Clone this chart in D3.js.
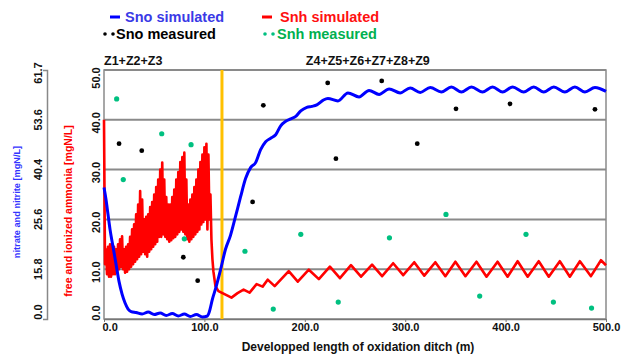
<!DOCTYPE html>
<html><head><meta charset="utf-8">
<script src="https://cdn.jsdelivr.net/npm/d3@7/dist/d3.min.js"></script>
<style>
body{margin:0;background:#fff}
svg{display:block}
text{font-family:"Liberation Sans",Arial,sans-serif;font-weight:bold}
</style>
</head><body>
<svg id="chart" width="635" height="358"></svg>
<script>
// ---------- data ----------
const xTicks = [0, 100, 200, 300, 400, 500];
const yTicks = [0, 10, 20, 30, 40, 50];
const yOuterLabels = ["0.0", "15.8", "25.6", "40.4", "53.6", "61.7"];
const zoneBoundary = 117.5;
const zoneLabels = ["Z1+Z2+Z3", "Z4+Z5+Z6+Z7+Z8+Z9"];
const zoneLabelStart = [0, 201];

const snoSimX = [0,2,4,6,9,12,15,18,21,24,27,32,38,44,50,56,62,68,74,80,86,92,98,103,105,108,111,116,121,126,131,136,141,146,151,156,161,166,171,176,181,186,191,196,202,207,212,218,223,233,243,254,264,274,284,295,305,315,325,336,346,356,366,377,387,397,407,418,428,438,448,459,469,479,489,500];
const snoSimV = [26.4,24,21,18,14.5,11,7.5,5,3.2,2,1.5,1.3,1.0,1.4,0.9,1.2,0.7,1.1,0.6,1.0,0.5,0.9,0.4,0.6,1.5,4,6,9.8,14,16.8,20.6,24.5,28.2,30.4,31.4,34,35.6,36.3,37,38.8,39.7,40.2,40.7,41.8,42.5,42.7,43.0,43.9,44.3,43.8,45.4,44.6,45.9,45.1,46.2,45.4,46.4,45.5,46.5,45.6,46.6,45.6,46.6,45.6,46.6,45.6,46.6,45.6,46.6,45.6,46.6,45.6,46.6,45.6,46.5,45.7];

const snhSimX = [0,1,2,3,4,5,6,7,8,9,10,11,12,13,14,15,16,17,18,19,20,21,22,23,24,25,26,27,28,29,30,31,32,33,34,35,36,37,38,39,40,41,42,43,44,45,46,47,48,49,50,51,52,53,54,55,56,57,58,59,60,61,62,63,64,65,66,67,68,69,70,71,72,73,74,75,76,77,78,79,80,81,82,83,84,85,86,87,88,89,90,91,92,93,94,95,96,97,98,99,100,101,102,103,104,105,106,107,108,109,111,114,118,122,127,133,139,145,152,158,163,170,184,193,204,214,225,235,246,256,267,277,288,298,309,319,330,340,350,360,371,381,392,402,412,422,433,443,454,464,474,485,495,500];
const snhSimV = [40,11,14,9,14.5,8.5,15,8.5,15,9,14.5,9,14,9.5,15,10,16,10.5,16.6,10,14,9.3,14.5,9.5,15,10,16.5,10.5,18,11,19,11.5,21,12,23,12.5,25.7,13,24,13.5,20,13,20.5,12.5,21,13.5,22.5,14,23.5,14.5,25,15,26.5,15.5,28,16.5,30,16.5,31.4,17,28,16.5,24.5,16,23,15.5,23,15.8,24.5,16.2,26,16.5,28,17,29.5,17.5,31.5,18,32.5,17.5,33.4,17,28,16,23,15.5,24,16,25,16.5,26.5,17,28,17.5,30,18,31.5,19,33,19.5,34.5,20,35.2,18,33,20,25,16,12,9.5,6.6,5.6,5.2,4.8,4.3,5.2,5.9,5.3,7.0,6.5,7.9,6.6,9.6,7.5,9.9,8.0,10.5,8.2,10.8,8.5,10.9,8.6,11.2,8.8,11.4,8.7,11.4,8.6,11.5,8.6,11.5,8.5,11.5,8.5,11.6,8.5,11.6,8.5,11.6,8.5,11.6,8.6,11.8,10.8];

const snoMeasX = [15,37.6,79,93.3,148,158.7,222.8,231,276.6,312,350.6,404.4,489];
const snoMeasV = [35.2,33.8,12.4,7.7,23.5,42.9,47.4,32.2,47.8,35.2,42.2,43.2,42.1];

const snhMeasX = [12.6,19.2,57.5,80,86.7,140.4,168.6,196,233.3,284.3,340.6,374.2,420.3,447.6,485.6];
const snhMeasV = [44.2,28,37.2,16.1,35,13.6,2.0,17,3.4,16.3,21,4.6,17,3.4,2.2];

const legendItems = [
  {label:"Sno simulated", kind:"line", color:"#0000ff", text:"#3a3ae6"},
  {label:"Sno measured",  kind:"dots", color:"#000000", text:"#000000"},
  {label:"Snh simulated", kind:"line", color:"#ff0000", text:"#ff1010"},
  {label:"Snh measured",  kind:"dots", color:"#00c080", text:"#00b050"}
];

// ---------- drawing ----------
const svg = d3.select("#chart");
svg.append("rect").attr("width",635).attr("height",358).attr("fill","#fff");

const x = d3.scaleLinear().domain([0,500]).range([104,606]);
const y = d3.scaleLinear().domain([0,50]).range([319,70]);

// gridlines
svg.append("g").selectAll("line").data(yTicks.filter(v=>v>0)).join("line")
  .attr("x1",x(0)).attr("x2",x(500)).attr("y1",d=>y(d)).attr("y2",d=>y(d))
  .attr("stroke","#8a8a8a").attr("stroke-width",2);

// plot border
svg.append("rect").attr("x",x(0)).attr("y",y(50)).attr("width",x(500)-x(0)).attr("height",y(0)-y(50))
  .attr("fill","none").attr("stroke","#8a8a8a").attr("stroke-width",1.5);

// bottom axis
const xAxis = d3.axisBottom(x).tickValues(xTicks).tickFormat(d=>d.toFixed(1)).tickSize(3).tickSizeOuter(0);
const gx = svg.append("g").attr("transform",`translate(0,${y(0)})`).call(xAxis);
gx.select(".domain").attr("stroke","#777").attr("stroke-width",1.5);
gx.selectAll(".tick line").attr("stroke","#777");
gx.selectAll(".tick text").attr("font-size",11).attr("font-weight","bold").attr("fill","#111")
  .attr("font-family","'Liberation Sans',Arial,sans-serif").attr("dy","0.55em")
  .attr("text-anchor",(d,i)=>i===0?"start":"middle").attr("dx",(d,i)=>i===0?-2:0);

// inner left labels (rotated)
svg.append("g").selectAll("text").data(yTicks).join("text")
  .attr("transform",(d,i)=>`translate(100,${y(d)+(i===0?-6:(i===yTicks.length-1?8:3))}) rotate(-90)`)
  .attr("text-anchor","middle").attr("font-size",11).attr("fill","#111")
  .text(d=>d.toFixed(1));

// outer left axis
const yOuter = d3.axisLeft(y).tickValues([]).tickSizeOuter(4);
const go = svg.append("g").attr("transform","translate(47,0)").call(yOuter);
go.select(".domain").attr("stroke","#888").attr("stroke-width",1.5);
svg.append("g").selectAll("text").data(yOuterLabels).join("text")
  .attr("transform",(d,i)=>`translate(42,${y(yTicks[i])+(i===0?-7:(i===yTicks.length-1?3:0))}) rotate(-90)`)
  .attr("text-anchor","middle").attr("font-size",11).attr("fill","#111")
  .text(d=>d);

// axis titles
svg.append("text").attr("transform","translate(20,202) rotate(-90)")
  .attr("text-anchor","middle").attr("font-size",9.2).attr("fill","#3333ff")
  .text("nitrate and nitrite [mgN/L]");
svg.append("text").attr("transform","translate(72,211) rotate(-90)")
  .attr("text-anchor","middle").attr("font-size",10.5).attr("fill","#ff0000")
  .text("free and ionized ammonia [mgN/L]");
svg.append("text").attr("x",358).attr("y",351).attr("text-anchor","middle")
  .attr("font-size",12).attr("fill","#111").text("Developped length of oxidation ditch (m)");

// zone labels
svg.append("g").selectAll("text").data(zoneLabels).join("text")
  .attr("x",(d,i)=>x(zoneLabelStart[i])).attr("y",65).attr("font-size",12.5).attr("fill","#111")
  .text(d=>d);

// zone boundary
svg.append("line").attr("x1",x(zoneBoundary)).attr("x2",x(zoneBoundary))
  .attr("y1",y(50)).attr("y2",y(0)).attr("stroke","#ffc000").attr("stroke-width",3);

// simulated lines
const snhData = snhSimX.map((d,i)=>[d,snhSimV[i]]);
const snoData = snoSimX.map((d,i)=>[d,snoSimV[i]]);
svg.append("path").datum(snhData)
  .attr("d",d3.line().x(d=>x(d[0])).y(d=>y(d[1])))
  .attr("fill","none").attr("stroke","#ff0000").attr("stroke-width",2.6).attr("stroke-linejoin","round");
svg.append("path").datum(snoData)
  .attr("d",d3.line().x(d=>x(d[0])).y(d=>y(d[1])).curve(d3.curveMonotoneX))
  .attr("fill","none").attr("stroke","#0000ff").attr("stroke-width",3).attr("stroke-linejoin","round");

// measured points
svg.append("g").selectAll("circle").data(snoMeasX.map((d,i)=>[d,snoMeasV[i]])).join("circle")
  .attr("cx",d=>x(d[0])).attr("cy",d=>y(d[1])).attr("r",2.4).attr("fill","#000");
svg.append("g").selectAll("circle").data(snhMeasX.map((d,i)=>[d,snhMeasV[i]])).join("circle")
  .attr("cx",d=>x(d[0])).attr("cy",d=>y(d[1])).attr("r",2.6).attr("fill","#00c080");

// legend
const legPos = [[110,17,125],[105,34,116],[262,17,280],[265,34,277]];
legendItems.forEach((it,i)=>{
  const [sx,sy,tx] = legPos[i];
  if(it.kind==="line"){
    svg.append("line").attr("x1",sx).attr("x2",sx+10).attr("y1",sy).attr("y2",sy)
      .attr("stroke",it.color).attr("stroke-width",3);
  } else {
    [0,8].forEach(o=>svg.append("circle").attr("cx",sx+o).attr("cy",sy).attr("r",1.8).attr("fill",it.color));
  }
  svg.append("text").attr("x",tx).attr("y",sy+5).attr("font-size",14.5).attr("fill",it.text).text(it.label);
});
</script>
</body></html>
